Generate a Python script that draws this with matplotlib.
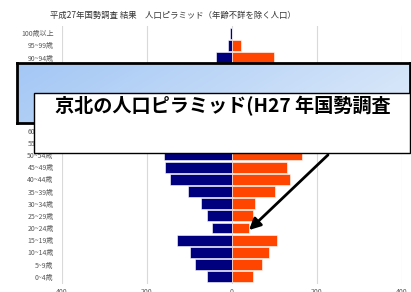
import numpy as np
import matplotlib
matplotlib.use("Agg")
import matplotlib.pyplot as plt
from matplotlib.ticker import FuncFormatter
from matplotlib.patches import Rectangle, FancyArrowPatch

plt.rcParams['font.family'] = ['Noto Sans CJK JP', 'DejaVu Sans']

# 年齢階級 (下から上)
ages = ['0~4歳', '5~9歳', '10~14歳', '15~19歳', '20~24歳', '25~29歳', '30~34歳',
        '35~39歳', '40~44歳', '45~49歳', '50~54歳', '55~59歳', '60~64歳', '65~69歳',
        '70~74歳', '75~79歳', '80~84歳', '85~89歳', '90~94歳', '95~99歳', '100歳以上']
male = [59, 87, 99, 130, 48, 60, 73, 103, 146, 157, 160, 165, 190, 220, 190, 150, 110, 70, 38, 9, 5]
female = [49, 71, 86, 106, 40, 49, 53, 100, 136, 129, 165, 160, 185, 225, 200, 180, 160, 140, 98, 20, 1]

title = '平成27年国勢調査 結果　人口ピラミッド（年齢不詳を除く人口）'
box_text = '京北の人口ピラミッド(H27 年国勢調査'

W, H = 411, 292
fig = plt.figure(figsize=(W / 100, H / 100), dpi=100)

def fx(px):
    return px / W

def fy(py):
    return 1 - py / H

ax = fig.add_axes([fx(62), fy(284), fx(402) - fx(62), fy(26) - fy(284)])
y = np.arange(len(ages))
ax.barh(y, [-v for v in male], height=0.88, color='#00007f', edgecolor='white', linewidth=0.4)
ax.barh(y, female, height=0.88, color='#ff4500', edgecolor='white', linewidth=0.4)
ax.set_xlim(-400, 400)
ax.set_ylim(-0.6, len(ages) - 0.4)
ax.set_yticks(y)
ax.set_yticklabels(ages, fontsize=5, color='#595959')
ax.set_xticks([-400, -200, 0, 200, 400])
ax.xaxis.set_major_formatter(FuncFormatter(lambda v, p: f'{abs(int(v))}'))
ax.tick_params(axis='x', length=0, pad=3, labelsize=5, labelcolor='#595959')
ax.tick_params(axis='y', length=0, pad=6)
ax.grid(axis='x', color='#d9d9d9', linewidth=0.8)
ax.set_axisbelow(True)
for s in ax.spines.values():
    s.set_visible(False)

fig.text(fx(173), fy(15), title, fontsize=6, ha='center', va='center', color='#333333')

# 青いグラデーションの枠
bax = fig.add_axes([fx(17), fy(123), fx(410) - fx(17), fy(63) - fy(123)], zorder=5)
gx = np.linspace(0, 1, 200)
gy = np.linspace(0, 1, 40)
GX, GY = np.meshgrid(gx, gy)
t = np.clip(0.8 * GX + 0.2 * (1 - GY), 0, 1)
c0 = np.array([0.64, 0.78, 0.96])
c1 = np.array([0.87, 0.92, 0.98])
img = c0[None, None, :] * (1 - t[..., None]) + c1[None, None, :] * t[..., None]
bax.imshow(img, aspect='auto', extent=[0, 1, 0, 1], origin='lower')
bax.set_xticks([])
bax.set_yticks([])
for s in bax.spines.values():
    s.set_linewidth(2)
    s.set_color('black')

# 白い枠とテキスト
wbox = Rectangle((fx(34), fy(153)), fx(410) - fx(34), fy(93) - fy(153), transform=fig.transFigure,
                 facecolor='white', edgecolor='black', linewidth=1, zorder=10)
fig.add_artist(wbox)
fig.text(fx(55), fy(106), box_text, fontsize=13.8, fontweight='bold', ha='left', va='center',
         color='black', zorder=11)

arrow = FancyArrowPatch((fx(330), fy(153)), (fx(247), fy(232)), transform=fig.transFigure,
                        arrowstyle='-|>', mutation_scale=17, linewidth=2, color='black', zorder=12)
fig.add_artist(arrow)

fig.savefig('out.png', dpi=100)
